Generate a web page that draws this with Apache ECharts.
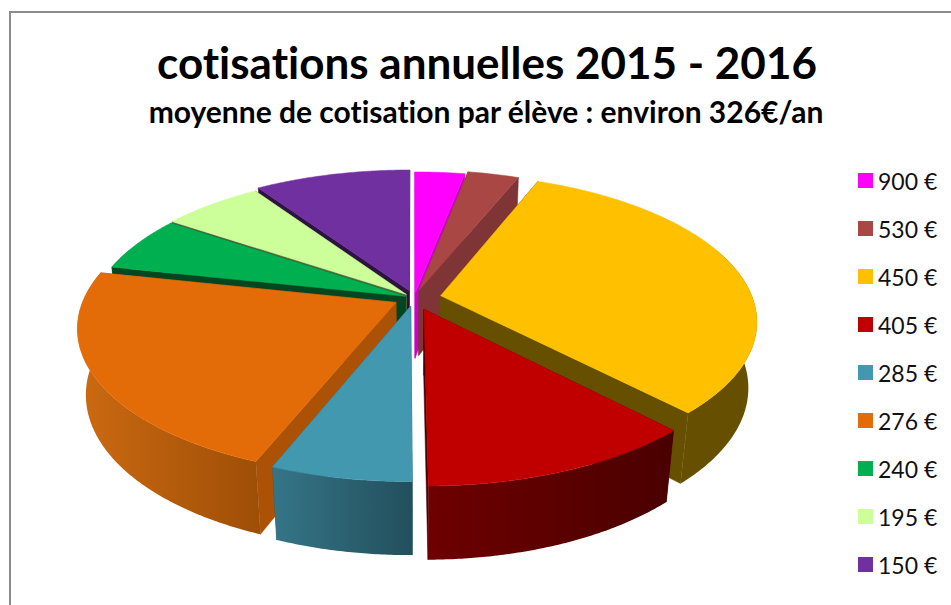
<!DOCTYPE html>
<html>
<head>
<meta charset="utf-8">
<script src="https://cdn.jsdelivr.net/npm/echarts@6/dist/echarts.min.js"></script>
<style>
html, body { margin: 0; padding: 0; background: #fff; }
#chart { width: 951px; height: 605px; }
#chart text { font-variant-ligatures: none; }
</style>
</head>
<body>
<div id="chart"></div>
<script>
// values (share of the pie, percent)
const labels = ['900 €', '530 €', '450 €', '405 €', '285 €', '276 €', '240 €', '195 €', '150 €'];
const shares = [3.0, 3.1, 31.8, 12.0, 6.1, 22.4, 6.1, 6.1, 9.4];

const colors = ['#FF00FF', '#A94745', '#FFC000', '#C00000', '#4298AF', '#E36C09', '#00B050', '#CCFF99', '#7030A0'];
const sideColors = ['#CC00CC', '#7F3535', '#665000', '#4A0000', '#2B5F70', '#AB5207', '#004620', '#52663D', '#2D1340'];
const wallLeft = ['#CC00CC', '#7F3535', '#665000', '#6E0000', '#357588', '#CC6A12', '#004620', '#52663D', '#2D1340'];
const wallRight = ['#CC00CC', '#7F3535', '#665000', '#4A0000', '#234F5C', '#9E4E06', '#004620', '#52663D', '#2D1340'];
const explode = [0.034, 0.055, 0.087, 0.084, 0.058, 0.065, 0.03, 0.035, 0.055];
// back to front
const drawRank = [1, 2, 5, 7, 8, 6, 4, 3, 0];

// fake 3d pie: flat disc seen with a little perspective
const view = { x: 414, y: 298, rx: 312, ry: 143, depth: 67, p: 0.167, q: 0.025 };

const total = shares.reduce((a, b) => a + b, 0);

function project(u, v, z) {
    let w = 1 + view.p * v + view.q * z;
    return [view.x + view.rx * u / w, view.y + (-view.ry * v + view.depth * z) / w];
}

function arcPoints(cu, cv, from, to, z) {
    let pts = [];
    let steps = Math.max(2, Math.ceil(Math.abs(to - from) * 120));
    for (let i = 0; i <= steps; i++) {
        let a = from + (to - from) * i / steps;
        pts.push(project(cu + Math.sin(a), cv + Math.cos(a), z));
    }
    return pts;
}

function renderSlice(params, api) {
    let idx = params.seriesIndex;
    let before = shares.slice(0, idx).reduce((a, b) => a + b, 0);
    let from = before / total * Math.PI * 2;
    let to = (before + api.value(0)) / total * Math.PI * 2;
    let mid = (from + to) / 2;
    let cu = Math.sin(mid) * explode[idx];
    let cv = Math.cos(mid) * explode[idx];

    let side = sideColors[idx];
    let poly = function (points, fill) {
        return { type: 'polygon', shape: { points: points }, style: { fill: fill, stroke: fill, lineWidth: 0.5 } };
    };
    let radial = function (a) {
        return poly([
            project(cu, cv, 0),
            project(cu + Math.sin(a), cv + Math.cos(a), 0),
            project(cu + Math.sin(a), cv + Math.cos(a), 1),
            project(cu, cv, 1)
        ], side);
    };

    let children = [radial(from), radial(to)];

    // outer wall, only the part turned to the viewer
    let wallFrom = Math.max(from, 70 * Math.PI / 180);
    let wallTo = Math.min(to, 290 * Math.PI / 180);
    if (wallTo > wallFrom) {
        let top = arcPoints(cu, cv, wallFrom, wallTo, 0);
        let bottom = arcPoints(cu, cv, wallFrom, wallTo, 1).reverse();
        let grad = new echarts.graphic.LinearGradient(0, 0, 1, 0, [
            { offset: 0, color: wallLeft[idx] },
            { offset: 1, color: wallRight[idx] }
        ]);
        children.push({ type: 'polygon', shape: { points: top.concat(bottom) }, style: { fill: grad } });
    }

    let face = [project(cu, cv, 0)].concat(arcPoints(cu, cv, from, to, 0));
    children.push(poly(face, colors[idx]));
    return { type: 'group', children: children };
}

let series = labels.map(function (name, i) {
    return {
        name: name,
        type: 'custom',
        coordinateSystem: 'none',
        renderItem: renderSlice,
        data: [[shares[i]]],
        z: 2 + drawRank[i],
        silent: true,
        animation: false,
        itemStyle: { color: colors[i] }
    };
});

let chart = echarts.init(document.getElementById('chart'), null, { renderer: 'svg' });
chart.setOption({
    backgroundColor: '#fff',
    animation: false,
    title: [
        {
            text: 'cotisations annuelles 2015 - 2016',
            left: 482, top: 35, textAlign: 'center',
            textStyle: { fontFamily: 'Lato', fontWeight: 'bold', fontSize: 44, color: '#000' }
        },
        {
            text: 'moyenne de cotisation par élève : environ 326€/an',
            left: 481, top: 91, textAlign: 'center',
            textStyle: { fontFamily: 'Lato', fontWeight: 'bold', fontSize: 30, color: '#000' }
        }
    ],
    legend: {
        orient: 'vertical',
        left: 853,
        top: 164,
        icon: 'rect',
        itemWidth: 15,
        itemHeight: 15,
        itemGap: 25,
        selectedMode: false,
        data: labels,
        textStyle: { fontFamily: 'Lato', fontSize: 23, color: '#111' }
    },
    graphic: [
        {
            type: 'polyline',
            shape: { points: [[10, 605], [10, 12], [951, 12]] },
            style: { stroke: '#8C8C8C', lineWidth: 2, fill: null }
        }
    ],
    series: series
});
</script>
</body>
</html>
